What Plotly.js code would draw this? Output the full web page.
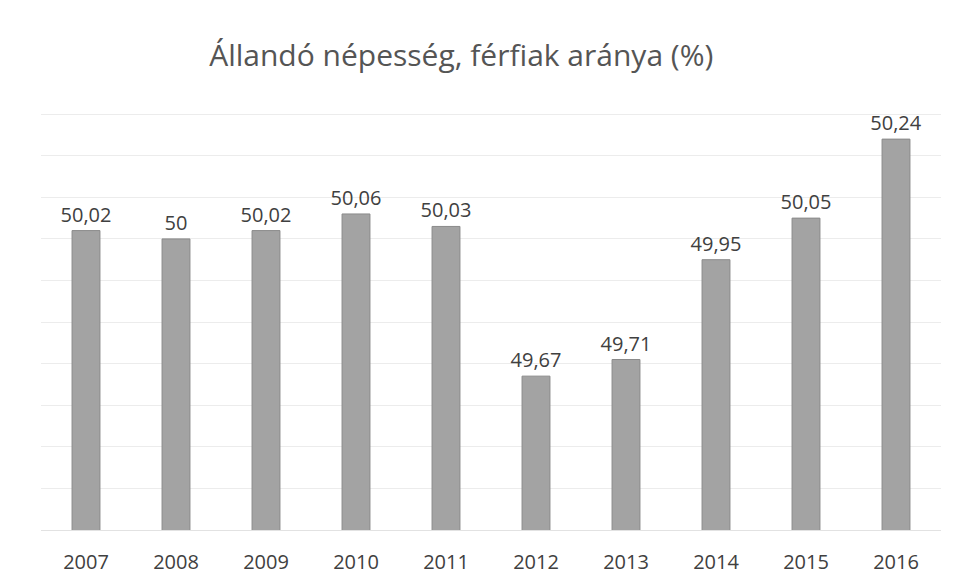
<!DOCTYPE html>
<html>
<head>
<meta charset="utf-8">
<script src="https://cdn.plot.ly/plotly-3.0.1.min.js"></script>
<style>html,body{margin:0;padding:0;background:#fff;}#chart{width:957px;height:583px;}</style>
</head>
<body>
<div id="chart"></div>
<script>
const years = ['2007','2008','2009','2010','2011','2012','2013','2014','2015','2016'];
const maleShare = [50.02, 50.00, 50.02, 50.06, 50.03, 49.67, 49.71, 49.95, 50.05, 50.24];
const titleText = 'Állandó népesség, férfiak aránya (%)';

const trace = {
  type: 'bar',
  x: years,
  y: maleShare,
  marker: {color: '#a3a3a3', line: {color: '#8a8a8a', width: 1}},
  texttemplate: '%{y}',
  textposition: 'outside',
  constraintext: 'none',
  cliponaxis: false,
  textfont: {family: 'Open Sans, sans-serif', size: 20, color: '#404040'},
  hoverinfo: 'none'
};

const layout = {
  width: 957, height: 583,
  separators: ', ',
  paper_bgcolor: '#ffffff', plot_bgcolor: '#ffffff',
  margin: {l: 41, r: 16, t: 110, b: 53},
  bargap: 0.69,
  showlegend: false,
  title: {
    text: titleText,
    font: {family: 'Open Sans, sans-serif', size: 30, color: '#555555'},
    x: 0.482, xanchor: 'center', y: 0.905, yanchor: 'middle'
  },
  xaxis: {
    type: 'category',
    showgrid: false,
    showline: true, linecolor: '#e2e2e2', linewidth: 1,
    ticks: '',
    tickfont: {family: 'Open Sans, sans-serif', size: 20, color: '#404040'},
    ticklabelstandoff: 14
  },
  yaxis: {
    range: [49.3, 50.31],
    tick0: 49.3, dtick: 0.1,
    showticklabels: false,
    showgrid: true, gridcolor: '#ececec', gridwidth: 1,
    zeroline: false, showline: false, ticks: ''
  }
};

Plotly.newPlot('chart', [trace], layout, {displayModeBar: false, staticPlot: true});
</script>
</body>
</html>
